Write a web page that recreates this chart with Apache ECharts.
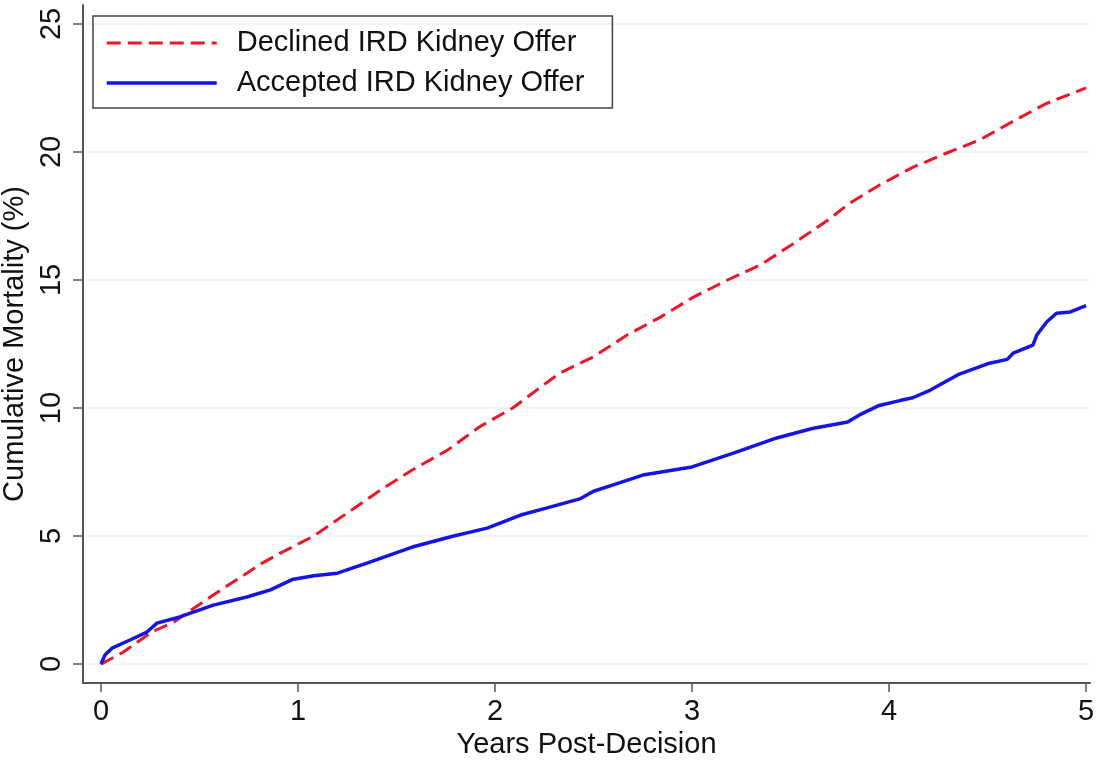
<!DOCTYPE html>
<html><head><meta charset="utf-8">
<script src="https://cdn.jsdelivr.net/npm/echarts@6/dist/echarts.min.js"></script>
<style>html,body{margin:0;padding:0;background:#fff}#c{width:1105px;height:763px}</style>
</head><body><div id="c"></div>
<script>
const xTicks = [0, 1, 2, 3, 4, 5];
const yTicks = [0, 5, 10, 15, 20, 25];
const seriesNames = ['Declined IRD Kidney Offer', 'Accepted IRD Kidney Offer'];

const declinedYears = [0, 0.11, 0.23, 0.28, 0.37, 0.57, 0.82, 0.91, 1.08, 1.25, 1.42, 1.58, 1.76, 1.92, 2.09, 2.26, 2.33, 2.50, 2.67, 2.84, 3.00, 3.18, 3.35, 3.51, 3.69, 3.80, 3.95, 4.12, 4.29, 4.46, 4.63, 4.80, 4.90, 5.00];
const declinedPct   = [0, 0.45, 1.10, 1.33, 1.64, 2.70, 3.95, 4.33, 5.00, 5.90, 6.80, 7.58, 8.36, 9.26, 10.0, 10.98, 11.37, 12.0, 12.85, 13.55, 14.3, 15.0, 15.6, 16.4, 17.34, 18.0, 18.7, 19.4, 19.95, 20.47, 21.2, 21.9, 22.2, 22.5];

const acceptedYears = [0, 0.02, 0.056, 0.147, 0.233, 0.284, 0.40, 0.57, 0.74, 0.86, 0.97, 1.08, 1.20, 1.35, 1.58, 1.79, 1.96, 2.13, 2.26, 2.43, 2.50, 2.60, 2.75, 3.00, 3.21, 3.43, 3.61, 3.79, 3.85, 3.95, 4.06, 4.12, 4.21, 4.35, 4.51, 4.60, 4.63, 4.73, 4.75, 4.80, 4.85, 4.92, 5.00];
const acceptedPct   = [0, 0.35, 0.62, 0.94, 1.25, 1.60, 1.84, 2.30, 2.62, 2.90, 3.30, 3.45, 3.55, 3.94, 4.57, 5.00, 5.31, 5.82, 6.09, 6.45, 6.75, 7.00, 7.38, 7.70, 8.24, 8.83, 9.20, 9.45, 9.73, 10.1, 10.3, 10.4, 10.7, 11.3, 11.75, 11.9, 12.14, 12.46, 12.85, 13.36, 13.7, 13.75, 14.0];

function pairs(xs, ys) { return xs.map((x, i) => [x, ys[i]]); }

const FONT = "'Liberation Sans', Arial, sans-serif";
const RED = '#ee1526', BLUE = '#1414e6';
const chart = echarts.init(document.getElementById('c'), null, {renderer: 'canvas'});
chart.setOption({
  backgroundColor: '#ffffff',
  animation: false,
  textStyle: {fontFamily: FONT},
  grid: {left: 83, right: 15, top: 5, bottom: 80, containLabel: false, outerBoundsMode: 'none'},
  legend: {
    orient: 'vertical', left: 93, top: 16,
    padding: [12, 28, 10, 12],
    itemGap: 10, itemWidth: 110, itemHeight: 14,
    borderColor: '#444', borderWidth: 1.5,
    itemStyle: {opacity: 0},
    textStyle: {fontSize: 29, fontFamily: FONT, color: '#111', lineHeight: 30, padding: [0, 0, 0, 15]},
    data: [
      {name: seriesNames[0], lineStyle: {color: RED, width: 3, type: [14, 7]}},
      {name: seriesNames[1], lineStyle: {color: BLUE, width: 3.5, type: 'solid'}}
    ]
  },
  xAxis: {
    type: 'value', min: -0.0914, max: 5.02,
    name: 'Years Post-Decision', nameLocation: 'middle', nameGap: 46,
    nameTextStyle: {fontSize: 29, color: '#111', fontFamily: FONT},
    axisLine: {show: true, onZero: false, lineStyle: {color: '#555', width: 2}},
    axisTick: {show: true, length: 9, customValues: xTicks, lineStyle: {color: '#555', width: 1.5}},
    axisLabel: {customValues: xTicks, fontSize: 29, color: '#111', margin: 14, fontFamily: FONT},
    splitLine: {show: false}
  },
  yAxis: {
    type: 'value', min: -0.74, max: 25.74,
    name: 'Cumulative Mortality (%)', nameLocation: 'middle', nameGap: 51,
    nameTextStyle: {fontSize: 29, color: '#111', fontFamily: FONT},
    axisLine: {show: true, onZero: false, lineStyle: {color: '#555', width: 2}},
    axisTick: {show: true, length: 10, customValues: yTicks, lineStyle: {color: '#555', width: 1.5}},
    axisLabel: {customValues: yTicks, fontSize: 29, color: '#111', margin: 17, rotate: 90, fontFamily: FONT},
    splitLine: {show: true, lineStyle: {color: '#f1f1f1', width: 1.5}}
  },
  series: [
    {
      name: seriesNames[0], type: 'line', data: pairs(declinedYears, declinedPct),
      symbol: 'none', showSymbol: false, smooth: false,
      lineStyle: {color: RED, width: 3, type: [14, 7]},
      itemStyle: {color: RED}, z: 2
    },
    {
      name: seriesNames[1], type: 'line', data: pairs(acceptedYears, acceptedPct),
      symbol: 'none', showSymbol: false, smooth: false,
      lineStyle: {color: BLUE, width: 3.5, type: 'solid'},
      itemStyle: {color: BLUE}, z: 3
    }
  ]
});
</script>
</body></html>
